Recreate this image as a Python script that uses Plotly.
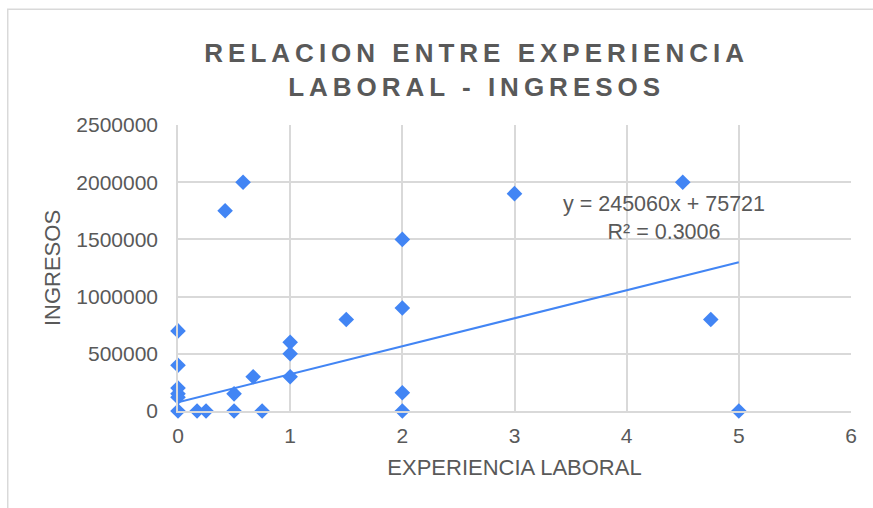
import plotly.graph_objects as go

# Data
experiencia = [0, 0, 0, 0, 0, 0, 0.17, 0.25, 0.42, 0.5, 0.5, 0.58, 0.67, 0.75,
               1, 1, 1, 1.5, 2, 2, 2, 2, 3, 4.5, 4.75, 5]
ingresos = [700000, 400000, 200000, 150000, 120000, 0, 0, 0, 1750000, 150000, 0,
            2000000, 300000, 0, 600000, 500000, 300000, 800000, 1500000, 900000,
            160000, 0, 1900000, 2000000, 800000, 0]

trend_slope = 245060
trend_intercept = 75721
trend_r2 = 0.3006
trend_x = [0, 5]

x_ticks = [0, 1, 2, 3, 4, 5, 6]
y_ticks = [0, 500000, 1000000, 1500000, 2000000, 2500000]

BLUE = "#4285F4"
GRAY = "#595959"
GRID = "#D9D9D9"
FONT = "Liberation Sans, Arial, sans-serif"

trend_y = [trend_slope * x + trend_intercept for x in trend_x]

fig = go.Figure()
fig.add_trace(go.Scatter(
    x=trend_x, y=trend_y, mode="lines",
    line=dict(color=BLUE, width=2), showlegend=False, hoverinfo="skip",
    cliponaxis=False,
))
fig.add_trace(go.Scatter(
    x=experiencia, y=ingresos, mode="markers",
    marker=dict(symbol="diamond", size=12, color=BLUE, line=dict(width=0)),
    showlegend=False, cliponaxis=False,
))

fig.add_annotation(
    x=4.33, y=1690000, xref="x", yref="y", showarrow=False,
    text=f"y = {trend_slope}x + {trend_intercept}<br>R² = {trend_r2}",
    font=dict(family=FONT, size=21.5, color=GRAY), align="center",
)

# outer chart frame
fig.add_shape(type="rect", xref="paper", yref="paper",
              x0=-0.253, x1=1.06, y0=-0.42, y1=1.405,
              line=dict(color=GRID, width=1.5), layer="below")

fig.update_layout(
    width=873, height=508,
    margin=dict(l=178, r=22, t=125, b=97),
    paper_bgcolor="white", plot_bgcolor="white",
    title=dict(
        text="RELACION ENTRE EXPERIENCIA<br>LABORAL - INGRESOS",
        font=dict(family=FONT, size=26, color=GRAY, weight="bold"),
        x=0.546, xanchor="center", xref="container",
        y=1 - 62 / 508, yanchor="middle", yref="container",
    ),
    font=dict(family=FONT, color=GRAY),
)
fig.update_xaxes(
    range=[0, 6], tickvals=x_ticks, ticktext=[str(v) for v in x_ticks],
    showgrid=True, gridcolor=GRID, gridwidth=1.5,
    zeroline=False, showline=True, linecolor=GRID, linewidth=1.5,
    tickfont=dict(family=FONT, size=21, color=GRAY), ticks="",
    ticklabelstandoff=5,
    title=dict(text="EXPERIENCIA LABORAL", standoff=14,
               font=dict(family=FONT, size=22, color=GRAY)),
)
fig.update_yaxes(
    range=[0, 2500000], tickvals=y_ticks, ticktext=[str(v) for v in y_ticks],
    showgrid=True, gridcolor=GRID, gridwidth=1.5,
    zeroline=False, showline=True, linecolor=GRID, linewidth=1.5,
    tickfont=dict(family=FONT, size=21, color=GRAY), ticks="",
    ticklabelstandoff=14,
    title=dict(text="INGRESOS", standoff=10,
               font=dict(family=FONT, size=22, color=GRAY)),
)

post = ("document.body.style.margin='0';"
        "var s=document.createElement('style');"
        "s.innerHTML='.gtitle{letter-spacing:5px}';"
        "document.head.appendChild(s);")
fig.write_html("out.html", post_script=post, config={"displayModeBar": False})
